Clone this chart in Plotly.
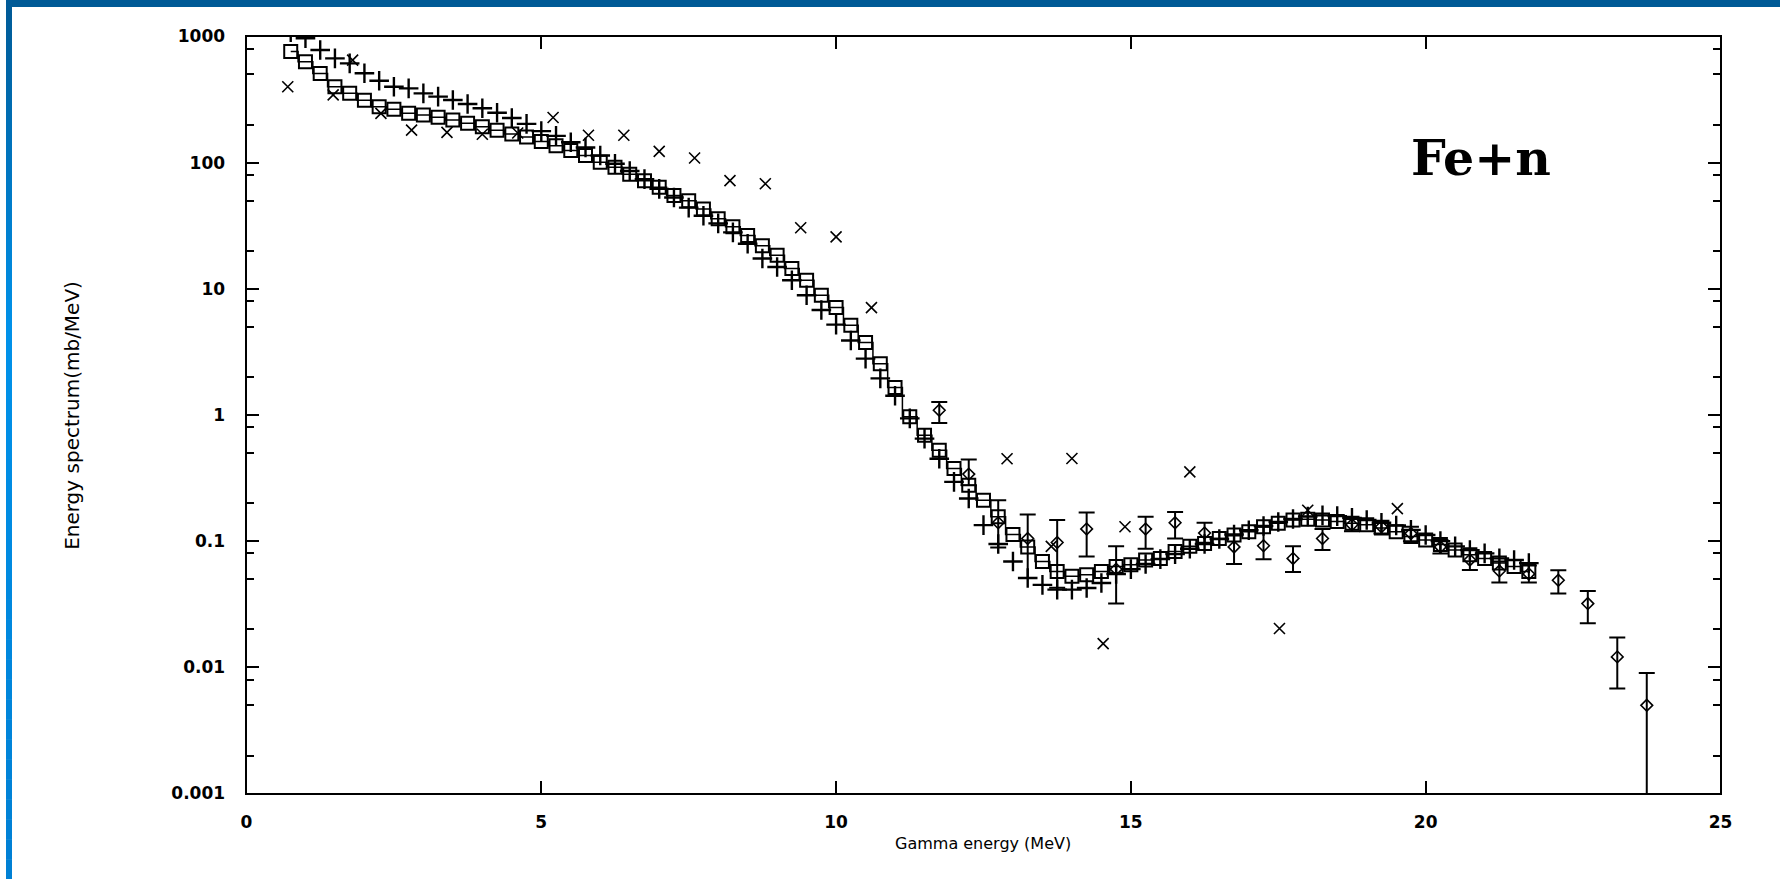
import plotly.graph_objects as go

# ---------------- data ----------------
energy_grid = [0.75, 1.0, 1.25, 1.5, 1.75, 2.0, 2.25, 2.5, 2.75, 3.0,
               3.25, 3.5, 3.75, 4.0, 4.25, 4.5, 4.75, 5.0, 5.25, 5.5,
               5.75, 6.0, 6.25, 6.5, 6.75, 7.0, 7.25, 7.5, 7.75, 8.0,
               8.25, 8.5, 8.75, 9.0, 9.25, 9.5, 9.75, 10.0, 10.25, 10.5,
               10.75, 11.0, 11.25, 11.5, 11.75, 12.0, 12.25, 12.5, 12.75, 13.0,
               13.25, 13.5, 13.75, 14.0, 14.25, 14.5, 14.75, 15.0, 15.25, 15.5,
               15.75, 16.0, 16.25, 16.5, 16.75, 17.0, 17.25, 17.5, 17.75, 18.0,
               18.25, 18.5, 18.75, 19.0, 19.25, 19.5, 19.75, 20.0, 20.25, 20.5,
               20.75, 21.0, 21.25, 21.5, 21.75]

calc_square = [760, 630, 510, 400, 355, 313, 277, 265, 246, 239,
               229, 218, 205, 193, 181, 169, 160, 147, 136, 125,
               114, 101, 92, 81, 72, 64, 55, 50, 43, 36,
               31, 26.5, 22, 18.5, 14.5, 11.7, 8.9, 7.1, 5.15, 3.75,
               2.55, 1.65, 0.97, 0.69, 0.525, 0.377, 0.277, 0.211, 0.156, 0.113,
               0.09, 0.069, 0.0575, 0.0526, 0.0542, 0.0575, 0.063, 0.065, 0.071, 0.073,
               0.083, 0.091, 0.096, 0.105, 0.112, 0.119, 0.130, 0.139, 0.147, 0.149,
               0.147, 0.143, 0.139, 0.135, 0.127, 0.119, 0.109, 0.102, 0.094, 0.085,
               0.078, 0.073, 0.067, 0.063, 0.0575]

calc_plus = [1080, 968, 782, 671, 613, 511, 446, 400, 388, 354,
             334, 314, 292, 270, 249, 226, 203, 178, 163, 145,
             132, 114, 98, 86, 74, 62, 53, 44, 38, 33,
             28, 22.8, 17.4, 14.9, 11.7, 8.9, 6.8, 5.2, 3.9, 2.8,
             1.95, 1.42, 0.94, 0.65, 0.45, 0.295, 0.218, 0.134, 0.095, 0.069,
             0.051, 0.045, 0.0413, 0.0413, 0.0426, 0.0466, 0.055, 0.060, 0.066, 0.072,
             0.079, 0.087, 0.095, 0.104, 0.113, 0.122, 0.132, 0.142, 0.150, 0.157,
             0.160, 0.158, 0.153, 0.147, 0.140, 0.133, 0.123, 0.112, 0.100, 0.091,
             0.085, 0.080, 0.073, 0.071, 0.067]

cross_x = [0.7, 1.47, 1.8, 2.28, 2.8, 3.4, 4.0, 4.6, 5.2, 5.8, 6.4, 7.0, 7.6, 8.2,
           8.8, 9.4, 10.0, 10.6, 12.9, 13.65, 14.0, 14.53, 14.9, 16.0, 17.52,
           18.0, 19.52]
cross_y = [400, 345, 650, 246, 181, 174, 168, 172, 228, 165, 165, 123, 109, 72,
           68, 30.5, 25.8, 7.1, 0.45, 0.091, 0.452, 0.0154, 0.13, 0.354, 0.0203,
           0.176, 0.181]

exp_x = [11.75, 12.25, 12.75, 13.25, 13.75, 14.25, 14.75, 15.25, 15.75, 16.25,
         16.75, 17.25, 17.75, 18.25, 18.75, 19.25, 19.75, 20.25, 20.75, 21.25,
         21.75, 22.25, 22.75, 23.25, 23.75]
exp_y = [1.09, 0.34, 0.14, 0.105, 0.0975, 0.125, 0.06, 0.125, 0.14, 0.116,
         0.09, 0.092, 0.073, 0.105, 0.135, 0.13, 0.115, 0.09, 0.071, 0.058,
         0.055, 0.049, 0.032, 0.0121, 0.005]
exp_hi = [1.27, 0.443, 0.211, 0.163, 0.147, 0.169, 0.091, 0.156, 0.17, 0.14,
          0.111, 0.13, 0.091, 0.125, 0.15, 0.145, 0.13, 0.102, 0.085, 0.069,
          0.064, 0.0587, 0.0403, 0.0172, 0.009]
exp_lo = [0.865, 0.277, 0.089, 0.051, 0.0427, 0.0757, 0.032, 0.087, 0.105, 0.097,
          0.066, 0.072, 0.057, 0.085, 0.12, 0.115, 0.10, 0.08, 0.059, 0.047,
          0.047, 0.0384, 0.0224, 0.0068, 0.0001]

y_tick_vals = [0.001, 0.01, 0.1, 1, 10, 100, 1000]
y_tick_text = ["0.001", "0.01", "0.1", "1", "10", "100", "1000"]
y_minor_vals = [m * d for d in [0.001, 0.01, 0.1, 1, 10, 100] for m in (2, 5, 8)]
x_tick_vals = [0, 5, 10, 15, 20, 25]

# ---------------- figure geometry ----------------
W, H = 1792, 879
# measured mapping from figure pixels to the photographed page
SX, OX = 0.992, 4.0
SY, OY = 0.977, 10.0
PX0, PX1 = 245, 1722      # target plot area left / right (page px)
PY0, PY1 = 36.5, 793.3    # target plot area top / bottom (page px)


def px(tx):
    return ((tx - OX) / SX) / W


def py(ty):
    return 1 - ((ty - OY) / SY) / H


fig = go.Figure()

fig.add_trace(go.Scatter(
    x=energy_grid, y=calc_square, mode="lines+markers", name="calc (squares)",
    line=dict(color="black", width=1.5, shape="hvh"),
    marker=dict(symbol="square-open", size=13, color="black",
                line=dict(color="black", width=2)),
))
fig.add_trace(go.Scatter(
    x=energy_grid, y=calc_plus, mode="markers", name="calc (plus)",
    marker=dict(symbol="cross-thin-open", size=14, color="black",
                line=dict(color="black", width=2.4)),
))
fig.add_trace(go.Scatter(
    x=cross_x, y=cross_y, mode="markers", name="data (x)",
    marker=dict(symbol="x-thin-open", size=11, color="black",
                line=dict(color="black", width=1.6)),
))
fig.add_trace(go.Scatter(
    x=exp_x, y=exp_y, mode="markers", name="experiment",
    marker=dict(symbol="diamond-open", size=9, color="black",
                line=dict(color="black", width=1.6)),
    error_y=dict(type="data", symmetric=False,
                 array=[h - v for h, v in zip(exp_hi, exp_y)],
                 arrayminus=[v - l for v, l in zip(exp_y, exp_lo)],
                 color="black", thickness=2, width=8),
))

axis_font = dict(family="DejaVu Sans", size=17, color="black", weight="bold")

fig.update_layout(
    width=W, height=H,
    margin=dict(l=0, r=0, t=0, b=0),
    paper_bgcolor="white", plot_bgcolor="white",
    showlegend=False,
    xaxis=dict(
        domain=[px(PX0), px(PX1)], range=[0, 25],
        tickvals=x_tick_vals, ticks="inside", ticklen=12, tickwidth=1.5,
        tickcolor="black", showline=True, linecolor="black", linewidth=2,
        mirror="ticks", showgrid=False, zeroline=False,
        tickfont=axis_font, ticklabelstandoff=12,
    ),
    yaxis=dict(
        domain=[py(PY1), py(PY0)], type="log", range=[-3, 3],
        tickvals=y_tick_vals, ticktext=y_tick_text, ticks="inside",
        ticklen=12, tickwidth=1.5, tickcolor="black",
        showline=True, linecolor="black", linewidth=2, mirror="ticks",
        showgrid=False, zeroline=False, tickfont=axis_font,
        ticklabelstandoff=16,
        minor=dict(tickvals=y_minor_vals, ticks="inside", ticklen=7,
                   tickwidth=1.5, tickcolor="black", showgrid=False),
    ),
    annotations=[
        dict(text="Gamma energy (MeV)", xref="paper", yref="paper",
             x=px((PX0 + PX1) / 2), y=py(843.5), xanchor="center",
             yanchor="middle", showarrow=False,
             font=dict(family="DejaVu Sans", size=16, color="black")),
        dict(text="Energy spectrum(mb/MeV)", xref="paper", yref="paper",
             x=px(70), y=py((PY0 + PY1) / 2), xanchor="center",
             yanchor="middle", textangle=-90, showarrow=False,
             font=dict(family="DejaVu Sans", size=20, color="black")),
        dict(text="<b>Fe+n</b>", xref="paper", yref="paper",
             x=px(1482), y=py(158), xanchor="center", yanchor="middle",
             showarrow=False,
             font=dict(family="DejaVu Serif", size=49, color="black")),
    ],
)

# blue slide frame: top band and left gradient band
top_c = (0x00, 0x5a, 0x96)
mid_c = (0x00, 0x92, 0xea)
bot_c = (0x00, 0x80, 0xd4)
shapes = [dict(type="rect", xref="paper", yref="paper", x0=0, x1=1,
               y0=py(7), y1=py(-20), fillcolor="#005a96",
               line=dict(width=0), layer="above")]
n = 44
for i in range(n):
    y0 = 879 * i / n
    y1 = 879 * (i + 1) / n
    t = (y0 + y1) / 2
    if t < 330:
        f = t / 330
        c = [int(a + (b - a) * f) for a, b in zip(top_c, mid_c)]
    else:
        f = (t - 330) / (879 - 330)
        c = [int(a + (b - a) * f) for a, b in zip(mid_c, bot_c)]
    shapes.append(dict(type="rect", xref="paper", yref="paper", x0=0,
                       x1=px(10), y0=py(y1 + 0.5), y1=py(y0),
                       fillcolor="rgb(%d,%d,%d)" % tuple(c),
                       line=dict(width=0), layer="above"))
fig.update_layout(shapes=shapes)

fig.write_html("out.html")
